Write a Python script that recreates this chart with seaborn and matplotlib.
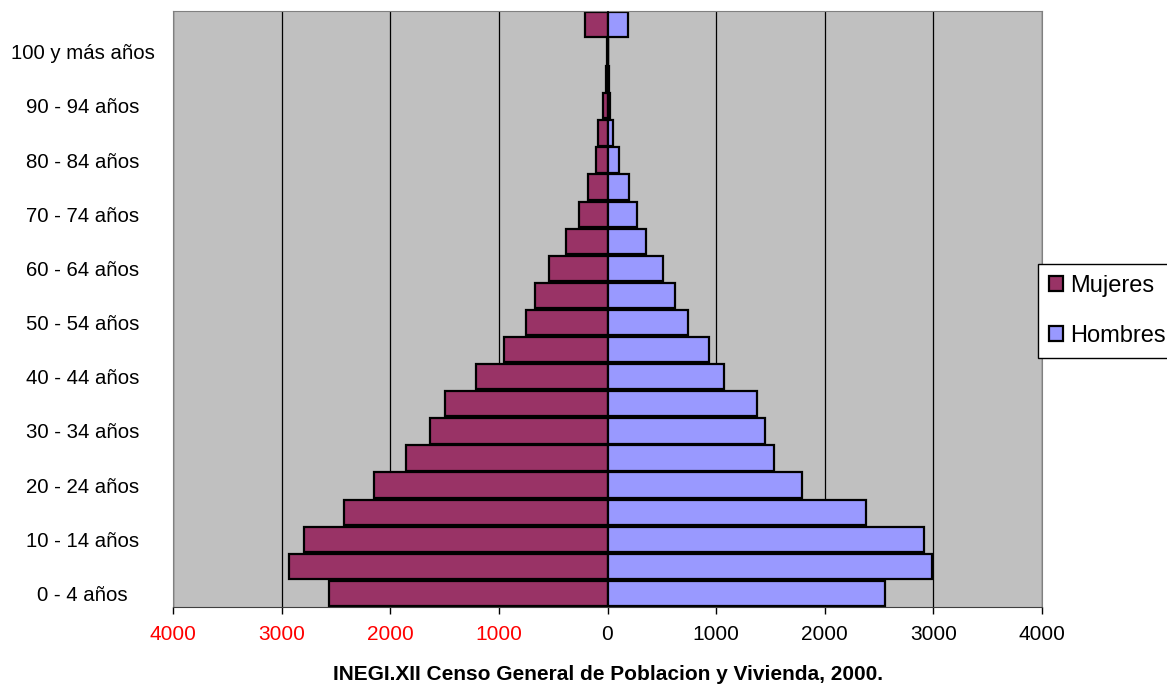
import matplotlib
matplotlib.use("Agg")
import matplotlib.pyplot as plt
import seaborn as sns
import pandas as pd

# Age groups, bottom to top
ages = ["0 - 4 años", "5 - 9 años", "10 - 14 años", "15 - 19 años", "20 - 24 años",
        "25 - 29 años", "30 - 34 años", "35 - 39 años", "40 - 44 años", "45 - 49 años",
        "50 - 54 años", "55 - 59 años", "60 - 64 años", "65 - 69 años", "70 - 74 años",
        "75 - 79 años", "80 - 84 años", "85 - 89 años", "90 - 94 años", "95 - 99 años",
        "100 y más años", "No especificado"]
mujeres = [2568, 2932, 2795, 2425, 2151, 1856, 1632, 1494, 1212, 957, 748, 663,
           540, 383, 264, 178, 106, 88, 38, 15, 5, 207]
hombres = [2555, 2986, 2918, 2377, 1795, 1534, 1451, 1380, 1071, 933, 739, 620,
           515, 359, 273, 202, 106, 54, 23, 10, 5, 191]
xticks = [-4000, -3000, -2000, -1000, 0, 1000, 2000, 3000, 4000]
series_names = ["Mujeres", "Hombres"]
colors = {"Mujeres": "#993366", "Hombres": "#9999FF"}
source = "INEGI.XII Censo General de Poblacion y Vivienda, 2000."

n = len(ages)
df = pd.DataFrame({
    "Edad": ages * 2,
    "Sexo": ["Mujeres"] * n + ["Hombres"] * n,
    "Poblacion": [-v for v in mujeres] + hombres,
})

plt.rcParams["font.family"] = ["Liberation Sans", "DejaVu Sans"]

fig = plt.figure(figsize=(11.67, 6.87), dpi=100)
ax = fig.add_axes([173 / 1167, 1 - 607 / 687, (1042 - 173) / 1167, (607 - 11) / 687])
ax.set_facecolor("#C0C0C0")

order = ages[::-1]
sns.barplot(data=df, y="Edad", x="Poblacion", hue="Sexo", order=order,
            hue_order=series_names, palette=colors, dodge=False, width=0.93,
            saturation=1, edgecolor="black", linewidth=1.6, orient="h",
            errorbar=None, ax=ax)

ax.set_xlim(-4000, 4000)
ax.set_xticks(xticks)
ax.set_xticklabels([str(abs(v)) for v in xticks], fontsize=15)
for lab, v in zip(ax.get_xticklabels(), xticks):
    lab.set_color("red" if v < 0 else "black")
ax.tick_params(axis="x", length=5, width=1, pad=8, color="black")

ax.set_yticks(range(n))
ylabels = []
for lab in order:
    k = ages.index(lab)
    ylabels.append(lab if (k % 2 == 0 and k <= 20) else "")
ax.set_yticklabels(ylabels, fontsize=14.7)
for t in ax.get_yticklabels():
    t.set_horizontalalignment("center")
ax.tick_params(axis="y", length=0, pad=65)

ax.xaxis.grid(True, color="black", lw=0.9)
ax.yaxis.grid(False)
ax.set_axisbelow(True)
ax.axvline(0, color="black", lw=1.2, zorder=3)
ax.set_xlabel("")
ax.set_ylabel("")
for side in ["top", "left", "right"]:
    ax.spines[side].set_color("#808080")
ax.spines["bottom"].set_color("#404040")

handles, labels = ax.get_legend_handles_labels()
ax.legend(handles, labels, loc="center left",
          bbox_to_anchor=(1038 / 1167, 1 - 311 / 687), bbox_transform=fig.transFigure,
          frameon=True, fancybox=False, edgecolor="black", fontsize=17,
          handlelength=0.6, handleheight=0.6, labelspacing=1.2, borderpad=0.45,
          handletextpad=0.3, borderaxespad=0, framealpha=1)
ax.get_legend().get_frame().set_linewidth(1)

fig.text(608 / 1167, 1 - 675 / 687, source, ha="center", va="center",
         fontsize=15, fontweight="bold")

fig.savefig("out.png", dpi=100)
